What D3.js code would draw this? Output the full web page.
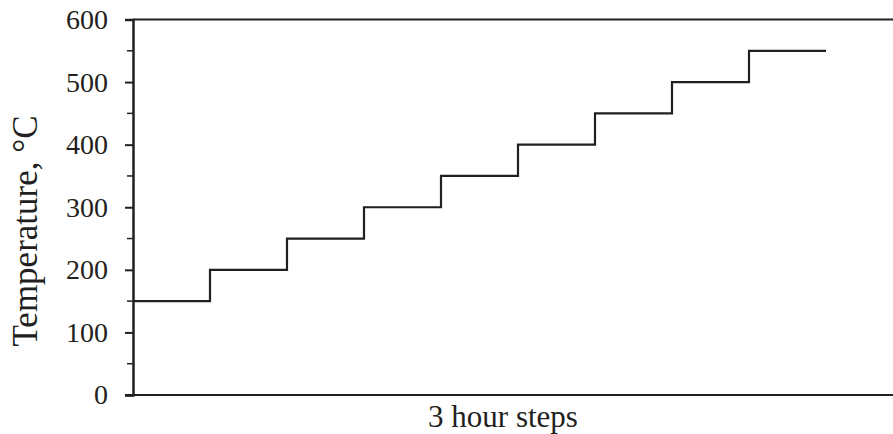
<!DOCTYPE html>
<html>
<head>
<meta charset="utf-8">
<script src="https://cdn.jsdelivr.net/npm/d3@7"></script>
<style>
  html, body { margin: 0; padding: 0; background: #fff; }
  svg { display: block; }
</style>
</head>
<body>
<svg id="chart"></svg>
<script>
// Temperature held for each 3-hour step
const steps = [0, 1, 2, 3, 4, 5, 6, 7, 8];
const temps = [150, 200, 250, 300, 350, 400, 450, 500, 550];
const yTicks = [0, 100, 200, 300, 400, 500, 600];
const yMinor = [50, 150, 250, 350, 450, 550];

const W = 893, H = 434;
const x = d3.scaleLinear().domain([0, 10]).range([133, 903]);
const y = d3.scaleLinear().domain([0, 600]).range([395, 19.5]);

const svg = d3.select("#chart").attr("width", W).attr("height", H);
const font = "'Liberation Serif', 'Times New Roman', serif";
const ink = "#231f20";

// step series: each value holds until next step
const pts = steps.map((s, i) => [s, temps[i]]);
pts.push([steps.length, temps[temps.length - 1]]);

const line = d3.line()
  .x(d => x(d[0]))
  .y(d => y(d[1]))
  .curve(d3.curveStepAfter);

svg.append("path")
  .datum(pts)
  .attr("d", line)
  .attr("fill", "none")
  .attr("stroke", ink)
  .attr("stroke-width", 2.2);

// top frame line
svg.append("line")
  .attr("x1", x(0)).attr("x2", x(10))
  .attr("y1", y(600)).attr("y2", y(600))
  .attr("stroke", ink).attr("stroke-width", 2);

// bottom axis (no ticks)
svg.append("line")
  .attr("x1", x(0) - 8).attr("x2", x(10))
  .attr("y1", y(0)).attr("y2", y(0))
  .attr("stroke", ink).attr("stroke-width", 2);

// minor y ticks
svg.append("g").selectAll("line")
  .data(yMinor).join("line")
  .attr("x1", x(0) - 6).attr("x2", x(0))
  .attr("y1", d => y(d)).attr("y2", d => y(d))
  .attr("stroke", ink).attr("stroke-width", 1.5);

// y axis
svg.append("g")
  .attr("transform", `translate(${x(0)},0)`)
  .call(d3.axisLeft(y).tickValues(yTicks).tickSize(8).tickPadding(17))
  .call(ax => {
    ax.select(".domain").attr("stroke", ink).attr("stroke-width", 2.5);
    ax.selectAll(".tick line").attr("stroke", ink).attr("stroke-width", 2);
    ax.selectAll(".tick text")
      .attr("fill", ink)
      .style("font-family", font)
      .style("font-size", "28px");
  });

// axis titles
svg.append("text")
  .attr("transform", `translate(37,231) rotate(-90)`)
  .attr("text-anchor", "middle")
  .attr("fill", ink)
  .style("font-family", font)
  .style("font-size", "35px")
  .text("Temperature, \u00B0C");

svg.append("text")
  .attr("x", 503).attr("y", 427)
  .attr("text-anchor", "middle")
  .attr("fill", ink)
  .style("font-family", font)
  .style("font-size", "31px")
  .text("3 hour steps");
</script>
</body>
</html>
